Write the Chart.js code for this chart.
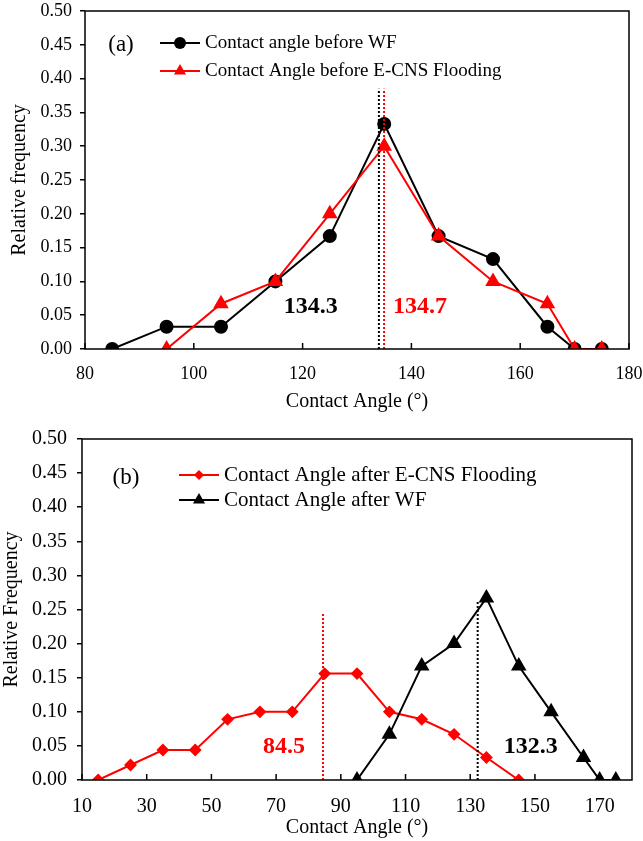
<!DOCTYPE html>
<html>
<head>
<meta charset="utf-8">
<script src="https://cdn.jsdelivr.net/npm/chart.js@4.4.0/dist/chart.umd.min.js"></script>
<style>
  body { margin: 0; background: #fff; }
  canvas { display: block; position: absolute; left: 0; }
  #chartA { top: 0; }
  #chartB { top: 420px; }
</style>
</head>
<body>
<canvas id="chartA" width="643" height="420"></canvas>
<canvas id="chartB" width="643" height="421"></canvas>
<script>
// ---- panel (a) ----
var anglesBeforeWF = [85, 95, 105, 115, 125, 135, 145, 155, 165, 170, 175];
var freqBeforeWF = [0, 0.033, 0.033, 0.1, 0.167, 0.333, 0.167, 0.133, 0.033, 0, 0];
var anglesBeforeECNS = [95, 105, 115, 125, 135, 145, 155, 165, 170, 175];
var freqBeforeECNS = [0, 0.067, 0.1, 0.2, 0.3, 0.167, 0.1, 0.067, 0, 0];
var xTicksA = [80, 100, 120, 140, 160, 180];
var meansA = [134.3, 134.7];

// ---- panel (b) ----
var anglesAfterECNS = [15, 25, 35, 45, 55, 65, 75, 85, 95, 105, 115, 125, 135, 145];
var freqAfterECNS = [0, 0.022, 0.044, 0.044, 0.089, 0.1, 0.1, 0.156, 0.156, 0.1, 0.089, 0.067, 0.033, 0];
var anglesAfterWF = [95, 105, 115, 125, 135, 145, 155, 165, 170, 175];
var freqAfterWF = [0, 0.067, 0.167, 0.2, 0.267, 0.167, 0.1, 0.033, 0, 0];
var xTicksB = [10, 30, 50, 70, 90, 110, 130, 150, 170];
var meansB = [84.5, 132.3];

var yTicks = [0, 0.05, 0.1, 0.15, 0.2, 0.25, 0.3, 0.35, 0.4, 0.45, 0.5];

var FONT = 'Liberation Serif, Times New Roman, serif';
var RED = '#ff0000';

function pts(xs, ys) {
  return xs.map(function (x, i) { return { x: x, y: ys[i] }; });
}

function marker(ctx, style, x, y, r, color) {
  ctx.fillStyle = color;
  ctx.beginPath();
  if (style === 'circle') {
    ctx.arc(x, y, r, 0, Math.PI * 2);
  } else if (style === 'triangle') {
    ctx.moveTo(x, y - r);
    ctx.lineTo(x + 0.866 * r, y + 0.5 * r);
    ctx.lineTo(x - 0.866 * r, y + 0.5 * r);
    ctx.closePath();
  } else {
    ctx.moveTo(x - r, y);
    ctx.lineTo(x, y - r);
    ctx.lineTo(x + r, y);
    ctx.lineTo(x, y + r);
    ctx.closePath();
  }
  ctx.fill();
}

// frame, inward x ticks, mean lines, labels and the legend
function panelPlugin(o) {
  return {
    id: 'panel',
    afterDatasetsDraw: function (chart) {
      var ctx = chart.ctx, a = chart.chartArea;
      var xs = chart.scales.x, ys = chart.scales.y;
      ctx.save();

      ctx.lineWidth = 2;
      ctx.setLineDash([2, 2]);
      o.means.forEach(function (m) {
        var px = xs.getPixelForValue(m.value) + m.shift;
        ctx.strokeStyle = m.color;
        ctx.beginPath();
        ctx.moveTo(px, ys.getPixelForValue(0));
        ctx.lineTo(px, ys.getPixelForValue(m.top));
        ctx.stroke();
      });
      ctx.setLineDash([]);

      ctx.strokeStyle = '#000';
      ctx.lineWidth = 1.5;
      ctx.strokeRect(a.left, a.top, a.right - a.left, a.bottom - a.top);
      xs.ticks.forEach(function (t) {
        var px = xs.getPixelForValue(t.value);
        ctx.beginPath();
        ctx.moveTo(px, a.bottom);
        ctx.lineTo(px, a.bottom - 6);
        ctx.stroke();
      });

      ctx.textAlign = 'center';
      ctx.textBaseline = 'middle';
      ctx.font = 'bold 24px ' + FONT;
      o.means.forEach(function (m) {
        ctx.fillStyle = m.color;
        ctx.fillText(String(m.value), xs.getPixelForValue(m.labelX), ys.getPixelForValue(m.labelY));
      });

      ctx.fillStyle = '#000';
      ctx.font = '23px ' + FONT;
      ctx.fillText(o.letter, o.letterX, o.letterY);

      ctx.textAlign = 'left';
      ctx.font = o.legendFont + 'px ' + FONT;
      o.legend.forEach(function (it, i) {
        var y = o.legendY + i * o.legendGap;
        ctx.strokeStyle = it.color;
        ctx.lineWidth = 2;
        ctx.beginPath();
        ctx.moveTo(o.legendX, y);
        ctx.lineTo(o.legendX + 40, y);
        ctx.stroke();
        marker(ctx, it.style, o.legendX + 20, y, it.radius, it.color);
        ctx.fillStyle = '#000';
        ctx.fillText(it.label, o.legendX + 45, y);
      });
      ctx.restore();
    }
  };
}

function makePanel(id, cfg) {
  var ctx = document.getElementById(id).getContext('2d');
  return new Chart(ctx, {
    type: 'scatter',
    data: { datasets: cfg.datasets },
    plugins: [panelPlugin(cfg.panel)],
    options: {
      responsive: false,
      animation: false,
      layout: { padding: cfg.padding },
      plugins: {
        legend: { display: false },
        tooltip: { enabled: false }
      },
      scales: {
        x: {
          type: 'linear',
          min: cfg.xMin,
          max: cfg.xMax,
          afterBuildTicks: function (s) { s.ticks = cfg.xTicks.map(function (v) { return { value: v }; }); },
          afterFit: function (s) { s.height = cfg.xHeight; s.paddingLeft = 0; s.paddingRight = 0; },
          grid: { display: false },
          border: { display: false },
          ticks: { color: '#000', autoSkip: false, maxRotation: 0, padding: cfg.xTickPad,
                   font: { family: FONT, size: cfg.tickSize } },
          title: { display: true, text: 'Contact Angle (°)', color: '#000',
                   font: { family: FONT, size: 20 }, padding: { top: 0, bottom: cfg.xTitlePad } }
        },
        y: {
          min: 0,
          max: 0.5,
          afterBuildTicks: function (s) { s.ticks = yTicks.map(function (v) { return { value: v }; }); },
          afterFit: function (s) { s.width = cfg.yWidth; s.paddingTop = 0; s.paddingBottom = 0; },
          grid: { drawOnChartArea: false, drawTicks: true, tickLength: 5, color: '#000', lineWidth: 1.5 },
          border: { display: false },
          ticks: { color: '#000', padding: cfg.yTickPad, font: { family: FONT, size: cfg.tickSize },
                   callback: function (v) { return v.toFixed(2); } },
          title: { display: true, text: cfg.yTitle, color: '#000',
                   font: { family: FONT, size: 20 }, padding: { top: cfg.yTitlePad, bottom: 0 } }
        }
      }
    }
  });
}

makePanel('chartA', {
  datasets: [
    { label: 'Contact angle before WF', data: pts(anglesBeforeWF, freqBeforeWF), showLine: true,
      borderColor: '#000', backgroundColor: '#000', borderWidth: 2,
      pointStyle: 'circle', pointRadius: 6, order: 2 },
    { label: 'Contact Angle before E-CNS Flooding', data: pts(anglesBeforeECNS, freqBeforeECNS), showLine: true,
      borderColor: RED, backgroundColor: RED, borderWidth: 2,
      pointStyle: 'triangle', pointRadius: 7, order: 1 }
  ],
  padding: { top: 11, right: 14, left: 0, bottom: 0 },
  xMin: 80, xMax: 180, xTicks: xTicksA,
  xHeight: 71, xTickPad: 6, xTitlePad: 6,
  yWidth: 85, yTickPad: 8, yTitlePad: 8,
  tickSize: 18,
  yTitle: 'Relative frequency',
  panel: {
    means: [
      { value: meansA[0], top: 0.385, color: '#000', shift: -1.5, labelX: 121.5, labelY: 0.062 },
      { value: meansA[1], top: 0.385, color: RED, shift: 1.5, labelX: 141.6, labelY: 0.062 }
    ],
    letter: '(a)', letterX: 121, letterY: 45,
    legendX: 160, legendY: 43, legendGap: 28, legendFont: 19,
    legend: [
      { label: 'Contact angle before WF', color: '#000', style: 'circle', radius: 6 },
      { label: 'Contact Angle before E-CNS Flooding', color: RED, style: 'triangle', radius: 7 }
    ]
  }
});

makePanel('chartB', {
  datasets: [
    { label: 'Contact Angle after WF', data: pts(anglesAfterWF, freqAfterWF), showLine: true,
      borderColor: '#000', backgroundColor: '#000', borderWidth: 2,
      pointStyle: 'triangle', pointRadius: 7, order: 1 },
    { label: 'Contact Angle after E-CNS Flooding', data: pts(anglesAfterECNS, freqAfterECNS), showLine: true,
      borderColor: RED, backgroundColor: RED, borderWidth: 2,
      pointStyle: 'rectRot', pointRadius: 5, order: 2 }
  ],
  padding: { top: 19, right: 11, left: 0, bottom: 0 },
  xMin: 10, xMax: 180, xTicks: xTicksB,
  xHeight: 61, xTickPad: 7, xTitlePad: 1,
  yWidth: 82, yTickPad: 10, yTitlePad: 0,
  tickSize: 20,
  yTitle: 'Relative Frequency',
  panel: {
    means: [
      { value: meansB[0], top: 0.246, color: RED, shift: 0, labelX: 72.4, labelY: 0.048 },
      { value: meansB[1], top: 0.262, color: '#000', shift: 0, labelX: 148.7, labelY: 0.048 }
    ],
    letter: '(b)', letterX: 126, letterY: 58,
    legendX: 179, legendY: 55, legendGap: 25, legendFont: 21,
    legend: [
      { label: 'Contact Angle after E-CNS Flooding', color: RED, style: 'rectRot', radius: 5 },
      { label: 'Contact Angle after WF', color: '#000', style: 'triangle', radius: 7 }
    ]
  }
});
</script>
</body>
</html>
